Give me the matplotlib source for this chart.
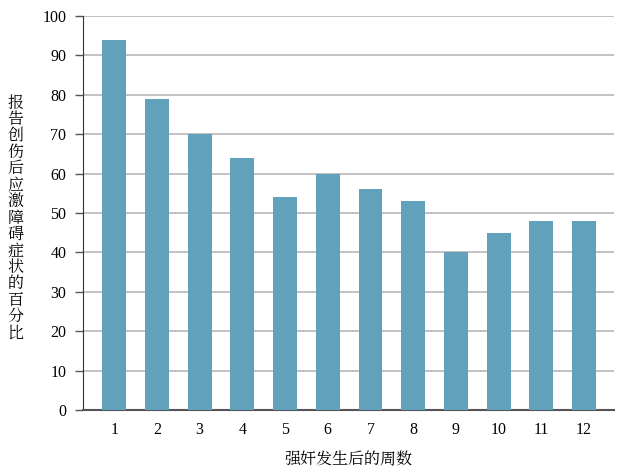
import matplotlib
matplotlib.use('Agg')
import matplotlib.pyplot as plt

weeks = ['1', '2', '3', '4', '5', '6', '7', '8', '9', '10', '11', '12']
percent = [94, 79, 70, 64, 54, 60, 56, 53, 40, 45, 48, 48]
y_ticks = [0, 10, 20, 30, 40, 50, 60, 70, 80, 90, 100]
x_label = '强奸发生后的周数'
y_label = '报告创伤后应激障碍症状的百分比'

cjk = ['Noto Serif CJK SC', 'Noto Sans CJK SC', 'DejaVu Sans']
serif = ['Liberation Serif', 'DejaVu Serif']

fig = plt.figure(figsize=(6.19, 4.74), dpi=100)
ax = fig.add_axes([83/619, 64/474, 531/619, 394/474])

pos = list(range(1, len(weeks) + 1))
ax.bar(pos, percent, width=0.56, color='#62a1bc', zorder=3)

ax.set_xlim(0.27, 12.7)
ax.set_ylim(0, 100)
ax.set_yticks(y_ticks)
ax.set_yticklabels([str(v) for v in y_ticks], family=serif, fontsize=11.5)
ax.set_xticks(pos)
ax.set_xticklabels(weeks, family=serif, fontsize=11.5)
ax.tick_params(axis='x', length=0, pad=9)
ax.tick_params(axis='y', length=6, width=1, color='#555555', pad=6)

ax.yaxis.grid(True, color='#b8b8b8', linewidth=1.2, zorder=0)
for s in ['top', 'right']:
    ax.spines[s].set_visible(False)
ax.spines['left'].set_color('#333333')
ax.spines['bottom'].set_color('#555555')
ax.spines['bottom'].set_linewidth(1.5)

ax.set_xlabel(x_label, family=cjk, fontsize=11.5, labelpad=9)
fig.text(15.5/619, 1 - 218/474, '\n'.join(y_label), family=cjk, fontsize=11.5,
         ha='center', va='center', linespacing=0.92)

fig.savefig('out.png', dpi=100)
